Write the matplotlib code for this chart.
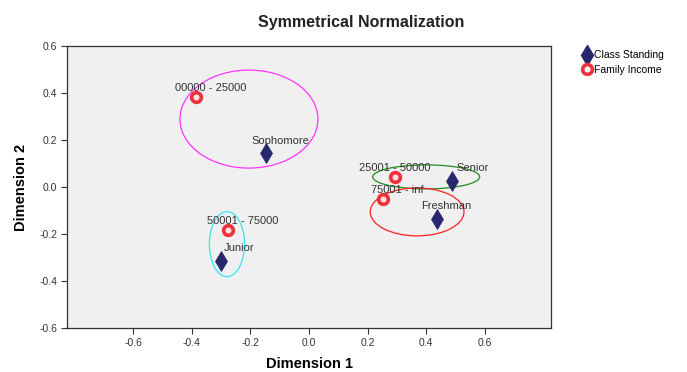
import matplotlib
matplotlib.use("Agg")
import matplotlib.pyplot as plt
from matplotlib.patches import Ellipse
from matplotlib.lines import Line2D

plt.rcParams['font.family'] = ['Liberation Sans', 'DejaVu Sans']

# Category points (Class Standing)
class_labels = ["Sophomore", "Senior", "Freshman", "Junior"]
class_x = [-0.147, 0.488, 0.437, -0.300]
class_y = [0.145, 0.026, -0.136, -0.315]

# Category points (Family Income)
income_labels = ["00000 - 25000", "25001 - 50000", "75001 - inf", "50001 - 75000"]
income_x = [-0.386, 0.294, 0.253, -0.276]
income_y = [0.383, 0.043, -0.051, -0.183]

# Grouping ellipses: centre x, centre y, width, height, colour
ell_cx = [-0.205, 0.400, 0.369, -0.280]
ell_cy = [0.289, 0.043, -0.106, -0.243]
ell_w = [0.471, 0.365, 0.320, 0.120]
ell_h = [0.417, 0.102, 0.204, 0.277]
ell_colors = ["#ff33ff", "#228b22", "#ff2020", "#33e6f0"]

xticks = [-0.6, -0.4, -0.2, 0.0, 0.2, 0.4, 0.6]
yticks = [-0.6, -0.4, -0.2, 0.0, 0.2, 0.4, 0.6]

fig = plt.figure(figsize=(6.87, 3.72), dpi=100)
ax = fig.add_axes([67/687, 1-328/372, (551-67)/687, (328-46)/372])
ax.set_facecolor("#f0f0f0")

for cx, cy, w, h, c in zip(ell_cx, ell_cy, ell_w, ell_h, ell_colors):
    ax.add_patch(Ellipse((cx, cy), w, h, fill=False, edgecolor=c, lw=0.9, zorder=2))

navy = "#27276e"
red = "#f0303a"
ax.plot(class_x, class_y, linestyle="none", marker="d", markersize=10,
        markerfacecolor=navy, markeredgecolor=navy, zorder=4,
        markeredgewidth=0.5)
ax.plot(income_x, income_y, linestyle="none", marker="o", markersize=7,
        markerfacecolor="#ffe0e0", markeredgecolor=red, markeredgewidth=2.6, zorder=4)

# Point labels
txt_kw = dict(fontsize=8, color="#333333", zorder=5)
class_off = [(0.05, 0.03), (0.07, 0.035), (0.03, 0.035), (0.06, 0.035)]
for lab, x, y, (dx, dy) in zip(class_labels, class_x, class_y, class_off):
    ax.text(x + dx, y + dy, lab, ha="center", va="bottom", **txt_kw)
income_off = [(0.05, 0.015), (0.0, 0.015), (0.05, 0.015), (0.05, 0.015)]
for lab, x, y, (dx, dy) in zip(income_labels, income_x, income_y, income_off):
    ax.text(x + dx, y + dy, lab, ha="center", va="bottom", **txt_kw)

ax.set_xlim(-0.826, 0.826)
ax.set_ylim(-0.6, 0.6)
ax.set_xticks(xticks)
ax.set_yticks(yticks)
ax.set_xticklabels([f"{t:.1f}" for t in xticks])
ax.set_yticklabels([f"{t:.1f}" for t in yticks])
ax.tick_params(direction="out", length=4, width=0.8, labelsize=7.5,
               colors="#333333", labelcolor="#333333", pad=3)
for s in ax.spines.values():
    s.set_color("#333333")
    s.set_linewidth(0.9)

ax.set_xlabel("Dimension 1", fontsize=10.5, fontweight="bold", labelpad=7)
ax.set_ylabel("Dimension 2", fontsize=10.5, fontweight="bold", labelpad=8)
fig.text(361/687, 1-22/372, "Symmetrical Normalization", ha="center",
         va="center", fontsize=11.5, fontweight="bold", color="#222222")

handles = [
    Line2D([], [], linestyle="none", marker="d", markersize=10,
           markerfacecolor=navy, markeredgecolor=navy),
    Line2D([], [], linestyle="none", marker="o", markersize=7,
           markerfacecolor="white", markeredgecolor=red, markeredgewidth=2.6),
]
fig.legend(handles, ["Class Standing", "Family Income"],
           loc="upper left", bbox_to_anchor=(579/687, 1-45/372),
           frameon=False, fontsize=7.5, handlelength=0.6, handletextpad=0.3,
           borderpad=0, labelspacing=0.45)

fig.savefig("out.png", dpi=100, facecolor="white")
